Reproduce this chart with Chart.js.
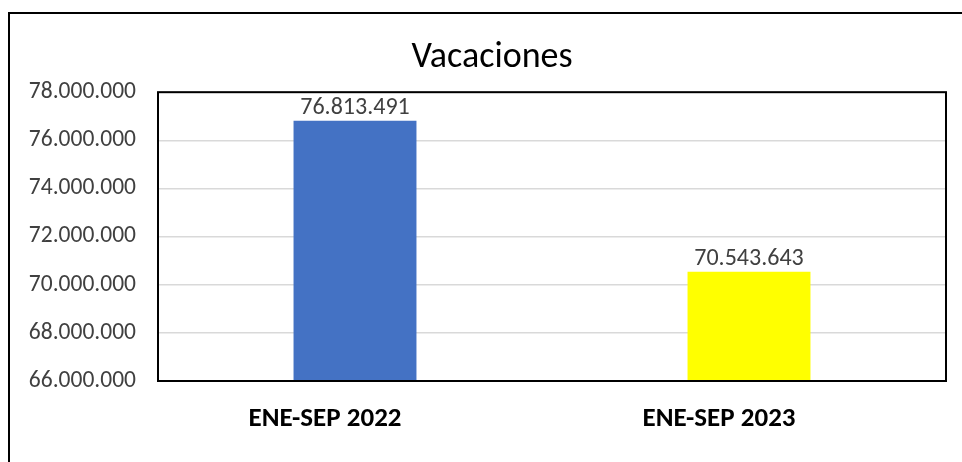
<!DOCTYPE html>
<html>
<head>
<meta charset="utf-8">
<script src="https://cdn.jsdelivr.net/npm/chart.js@4"></script>
<style>
html,body{margin:0;padding:0;background:#fff;}
#wrap{position:relative;width:962px;height:462px;}
</style>
</head>
<body>
<div id="wrap"><canvas id="c" width="962" height="462"></canvas></div>
<script>
const categories = ["ENE-SEP 2022", "ENE-SEP 2023"];
const values = [76813491, 70543643];
const barColors = ["#4472C4", "#FFFF00"];
const yMin = 66000000, yMax = 78000000, yStep = 2000000;
const titleText = "Vacaciones";

const FONT = "Carlito, Lato, 'Open Sans', sans-serif";
function fmt(v){ return String(Math.round(v)).replace(/\B(?=(\d{3})+(?!\d))/g, "."); }

const framePlugin = {
  id: 'frame',
  afterLayout(chart){
    // widen the y-axis label clip region to the canvas edge
    if (chart.scales.y) chart.scales.y.left = 0;
  },
  beforeDraw(chart){
    const ctx = chart.ctx;
    ctx.save();
    ctx.fillStyle = '#fff';
    ctx.fillRect(0,0,chart.width,chart.height);
    ctx.strokeStyle = '#000';
    ctx.lineWidth = 2;
    ctx.strokeRect(9, 13, 1000, 500);
    ctx.restore();
  },
  afterDatasetsDraw(chart){
    const ctx = chart.ctx;
    const a = chart.chartArea;
    ctx.save();
    ctx.strokeStyle = '#000';
    ctx.lineWidth = 2;
    ctx.strokeRect(a.left, a.top, a.right - a.left, a.bottom - a.top);
    const meta = chart.getDatasetMeta(0);
    ctx.fillStyle = '#404040';
    ctx.font = "24px " + FONT;
    ctx.textAlign = 'center';
    ctx.textBaseline = 'alphabetic';
    meta.data.forEach((bar, i) => {
      ctx.fillText(fmt(values[i]), bar.x, bar.y - 7);
    });
    ctx.restore();
  }
};

new Chart(document.getElementById('c'), {
  type: 'bar',
  data: {
    labels: categories,
    datasets: [{
      data: values,
      backgroundColor: barColors,
      borderWidth: 0,
      barPercentage: 0.312,
      categoryPercentage: 1.0
    }]
  },
  options: {
    responsive: false,
    animation: false,
    devicePixelRatio: 1,
    layout: { padding: { left: 38, right: 16, top: 0, bottom: 0 } },
    plugins: {
      legend: { display: false },
      tooltip: { enabled: false },
      title: {
        display: true,
        text: titleText,
        color: '#000',
        font: { family: FONT, size: 36, weight: 'normal', lineHeight: 1.2 },
        padding: { top: 36, bottom: 13 }
      }
    },
    scales: {
      y: {
        min: yMin, max: yMax,
        afterFit(s){ s.width = 120; },
        border: { display: false },
        grid: { color: '#d9d9d9', lineWidth: 1.5, drawTicks: false },
        ticks: {
          stepSize: yStep,
          padding: 22,
          color: '#404040',
          font: { family: FONT, size: 23.5 },
          callback: (v) => fmt(v)
        }
      },
      x: {
        afterFit(s){ s.height = 81; },
        border: { display: false },
        grid: { display: false, drawTicks: false },
        ticks: {
          padding: 22,
          labelOffset: -30,
          color: '#000',
          font: { family: FONT, size: 27, weight: 'bold' }
        }
      }
    }
  },
  plugins: [framePlugin]
});
</script>
</body>
</html>
